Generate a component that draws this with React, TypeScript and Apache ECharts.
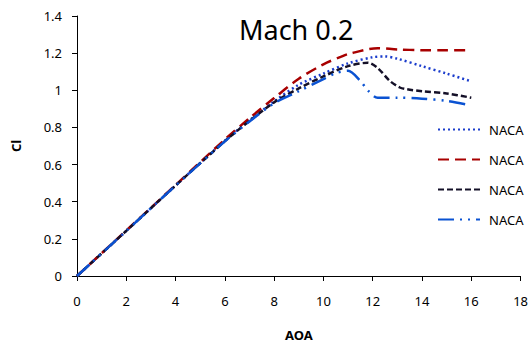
import React, { useEffect, useRef } from "react";
import * as echarts from "echarts";

// Angle of attack (deg) and lift coefficient for each airfoil run
const aoaDotted = [0, 2, 4, 6, 7, 8, 9, 10, 11, 12, 12.5, 13, 14, 15, 16];
const clDotted = [0, 0.243, 0.487, 0.728, 0.838, 0.94, 1.03, 1.09, 1.145, 1.178, 1.182, 1.17, 1.13, 1.09, 1.048];

const aoaRed = [0, 2, 4, 6, 7, 8, 9, 10, 10.7, 11, 12.2, 13, 14, 15, 16];
const clRed = [0, 0.245, 0.49, 0.735, 0.85, 0.958, 1.062, 1.14, 1.18, 1.195, 1.227, 1.22, 1.216, 1.215, 1.215];

const aoaBlack = [0, 2, 4, 6, 7, 8, 9, 10, 11, 11.8, 12.2, 12.7, 13.1, 13.4, 14, 15, 16];
const clBlack = [0, 0.243, 0.487, 0.726, 0.835, 0.935, 1.01, 1.075, 1.13, 1.148, 1.12, 1.05, 1.015, 1.005, 0.995, 0.983, 0.96];

const aoaDashDot = [0, 2, 4, 6, 7, 8, 9, 10, 10.5, 11, 11.5, 11.8, 12.2, 13, 14, 15, 15.8];
const clDashDot = [0, 0.243, 0.487, 0.725, 0.832, 0.93, 0.995, 1.06, 1.092, 1.105, 1.05, 1.0, 0.96, 0.96, 0.955, 0.943, 0.924];

const seriesNames = ["NACA 1", "NACA 2", "NACA 3", "NACA 4"];
const legendLabel = "NACA";

const xTicks = { min: 0, max: 18, interval: 2 };
const yTicks = { min: 0, max: 1.4, interval: 0.2 };

const zip = (xs: number[], ys: number[]) => xs.map((x, i) => [x, ys[i]]);

export default function App() {
  const ref = useRef<HTMLDivElement>(null);

  useEffect(() => {
    if (!ref.current) return;
    const chart = echarts.init(ref.current, null, { renderer: "svg" });
    const font = "Noto Sans";
    const lineSeries = (
      name: string,
      data: number[][],
      color: string,
      type: any,
      width: number
    ) => ({
      name,
      type: "line",
      data,
      symbol: "none",
      smooth: 0.3,
      lineStyle: { color, width, type, cap: "butt" },
      itemStyle: { color },
    });

    chart.setOption({
      animation: false,
      backgroundColor: "#ffffff",
      title: {
        text: "Mach 0.2",
        left: 234,
        top: 11,
        textStyle: { fontFamily: font, fontSize: 27, fontWeight: "normal", color: "#000" },
      },
      legend: {
        orient: "vertical",
        left: 432,
        top: 118,
        itemWidth: 42,
        itemHeight: 14,
        itemGap: 17,
        data: seriesNames,
        formatter: () => legendLabel,
        itemStyle: { opacity: 0 },
        textStyle: { fontFamily: font, fontSize: 13, color: "#000", padding: [0, 0, 0, 4] },
      },
      grid: { left: 77, right: 9, top: 16, bottom: 67 },
      xAxis: {
        type: "value",
        min: xTicks.min,
        max: xTicks.max,
        interval: xTicks.interval,
        name: "AOA",
        nameLocation: "middle",
        nameGap: 52,
        nameTextStyle: { fontFamily: font, fontSize: 13, fontWeight: "bold", color: "#000" },
        splitLine: { show: false },
        axisLine: { lineStyle: { color: "#000", width: 1 } },
        axisTick: { length: 5, lineStyle: { color: "#000" } },
        axisLabel: { fontFamily: font, fontSize: 13, color: "#000", margin: 18 },
      },
      yAxis: {
        type: "value",
        min: yTicks.min,
        max: yTicks.max,
        interval: yTicks.interval,
        name: "Cl",
        nameLocation: "middle",
        nameGap: 55,
        nameTextStyle: { fontFamily: font, fontSize: 13, fontWeight: "bold", color: "#000" },
        splitLine: { show: false },
        axisLine: { show: true, lineStyle: { color: "#000", width: 1 } },
        axisTick: { show: true, length: 5, lineStyle: { color: "#000" } },
        axisLabel: { fontFamily: font, fontSize: 13, color: "#000", margin: 15 },
      },
      series: [
        lineSeries(seriesNames[0], zip(aoaDotted, clDotted), "#1a3ccc", [2, 3], 2.5),
        lineSeries(seriesNames[1], zip(aoaRed, clRed), "#a80000", [11, 6], 2.5),
        lineSeries(seriesNames[2], zip(aoaBlack, clBlack), "#141028", [6, 3], 2.5),
        lineSeries(seriesNames[3], zip(aoaDashDot, clDashDot), "#0a52d2", [16, 6, 2, 6, 2, 6], 2.5),
      ],
    });

    return () => chart.dispose();
  }, []);

  return (
    <div
      ref={ref}
      style={{ position: "fixed", left: 0, top: 0, width: 531, height: 346 }}
    />
  );
}
